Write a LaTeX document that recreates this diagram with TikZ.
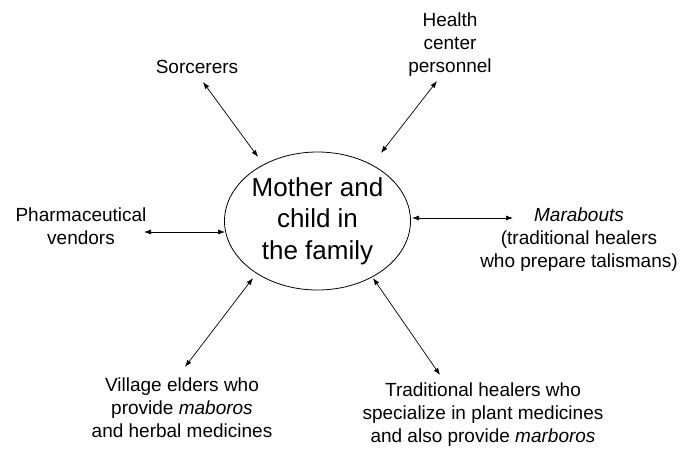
\documentclass[tikz,border=0pt]{standalone}
\usepackage{fontspec}
\setmainfont{Liberation Sans}
\usetikzlibrary{arrows.meta,shapes.geometric}

\begin{document}
\begin{tikzpicture}[x=1pt,y=-1pt,
  lbl/.style={align=center,font=\fontsize{19}{23}\selectfont,inner sep=0pt},
  link/.style={{Latex[length=7pt,width=5pt]}-{Latex[length=7pt,width=5pt]},line width=0.7pt}]
\useasboundingbox (0,0) rectangle (681,450);
% centre of the diagram
\node[draw,ellipse,line width=0.8pt,minimum width=179pt,minimum height=138pt,inner sep=0pt,
  align=center,font=\fontsize{26}{31.5}\selectfont] (mother) at (317.5,221)
  {Mother and\\child in\\the family};
% the people round it
\node[lbl] (sorcerers) at (197,67) {Sorcerers};
\node[lbl] (health) at (450,45) {Health\\center\\personnel};
\node[lbl] (pharma) at (81,226.5) {Pharmaceutical\\vendors};
\node[lbl] (marabouts) at (579,240) {\textit{Marabouts}\\(traditional healers\\who prepare talismans)};
\node[lbl] (elders) at (182,408) {Village elders who\\provide \textit{maboros}\\and herbal medicines};
\node[lbl] (healers) at (483,415) {Traditional healers who\\specialize in plant medicines\\and also provide \textit{marboros}};
% arrow ends
\coordinate (sorc-a) at (203,82);   \coordinate (sorc-b) at (258,157);
\coordinate (hlth-a) at (437,81);   \coordinate (hlth-b) at (381,153);
\coordinate (phar-a) at (144,232);  \coordinate (phar-b) at (225,232);
\coordinate (mara-a) at (513,218);  \coordinate (mara-b) at (412,218);
\coordinate (eldr-a) at (185,367);  \coordinate (eldr-b) at (253,278);
\coordinate (heal-a) at (440,375);  \coordinate (heal-b) at (373,278);
\foreach \p in {sorc,hlth,phar,mara,eldr,heal} % edit here for the arrows
\draw[link] (\p-a) -- (\p-b);
\end{tikzpicture}
\end{document}
